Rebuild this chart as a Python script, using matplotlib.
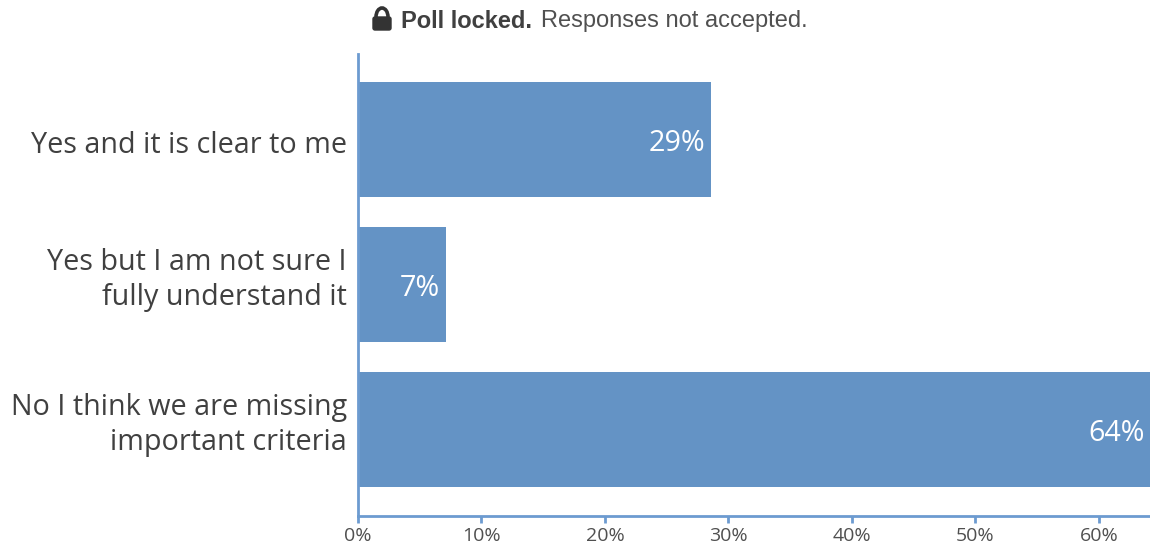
"""Poll result: horizontal bars with percentage labels and a locked-poll banner."""
import matplotlib

matplotlib.use("Agg")
import matplotlib.pyplot as plt
from matplotlib.patches import Arc, FancyBboxPatch
from matplotlib.ticker import PercentFormatter
from matplotlib.transforms import ScaledTranslation

categories = [
    "Yes and it is clear to me",
    "Yes but I am not sure I\nfully understand it",
    "No I think we are missing\nimportant criteria",
]
values = [28.6, 7.1, 64.3]
bar_labels = ["29%", "7%", "64%"]
ticks = [0, 10, 20, 30, 40, 50, 60]

BLUE = "#6493c5"
AXIS_BLUE = "#6c9bd0"
TEXT = "#404040"
W, H = 1150, 544

fig = plt.figure(figsize=(W / 100, H / 100), dpi=100)
ax = fig.add_axes([358 / W, (H - 516) / H, (W - 358) / W, (516 - 54) / H])

ax.barh(range(3), values, height=0.793, color=BLUE)
ax.set_xlim(0, 64.13)
ax.set_ylim(2.597, -0.59)

for i, (val, lab) in enumerate(zip(values, bar_labels)):
    ax.annotate(lab, (min(val, 64.13), i), xytext=(-4, -3), textcoords="offset points",
                ha="right", va="center", color="white", fontsize=20.7, family="Open Sans",
                annotation_clip=False)

ax.set_yticks(range(3), categories, fontsize=20.7, family="Open Sans", color=TEXT,
              linespacing=1.3)
ax.set_xticks(ticks)
ax.xaxis.set_major_formatter(PercentFormatter(decimals=0))
ax.tick_params(axis="y", length=0, pad=8)
ax.tick_params(axis="x", length=5, width=2, color=AXIS_BLUE, labelsize=14,
               labelcolor="#505050", pad=3)
for label in ax.get_xticklabels():
    label.set_family("Open Sans")

# category labels sit a little off the bar centres in the original
for label, dy in zip(ax.get_yticklabels(), [-2, 8, 8]):
    label.set_transform(label.get_transform() + ScaledTranslation(0, dy / 72, fig.dpi_scale_trans))

for side in ("top", "right"):
    ax.spines[side].set_visible(False)
for side in ("left", "bottom"):
    ax.spines[side].set_color(AXIS_BLUE)
    ax.spines[side].set_linewidth(2)

# banner above the chart, lock icon drawn in pixel coordinates
overlay = fig.add_axes([0, 0, 1, 1], facecolor="none")
overlay.set_xlim(0, W)
overlay.set_ylim(H, 0)
overlay.axis("off")
overlay.add_patch(FancyBboxPatch((373, 17), 18, 13, boxstyle="round,pad=0,rounding_size=2",
                                 fc="#333333", ec="#333333", lw=1))
overlay.add_patch(Arc((382, 17), 12, 18, theta1=180, theta2=360, ec="#333333", lw=2.6))
overlay.text(401, 21, "Poll locked.", fontsize=17, fontweight="bold", color="#404040",
             family="Liberation Sans", va="center", ha="left")
overlay.text(808, 21, "Responses not accepted.", fontsize=17, color="#505050",
             family="Liberation Sans", va="center", ha="right")

fig.savefig("out.png", dpi=100)
